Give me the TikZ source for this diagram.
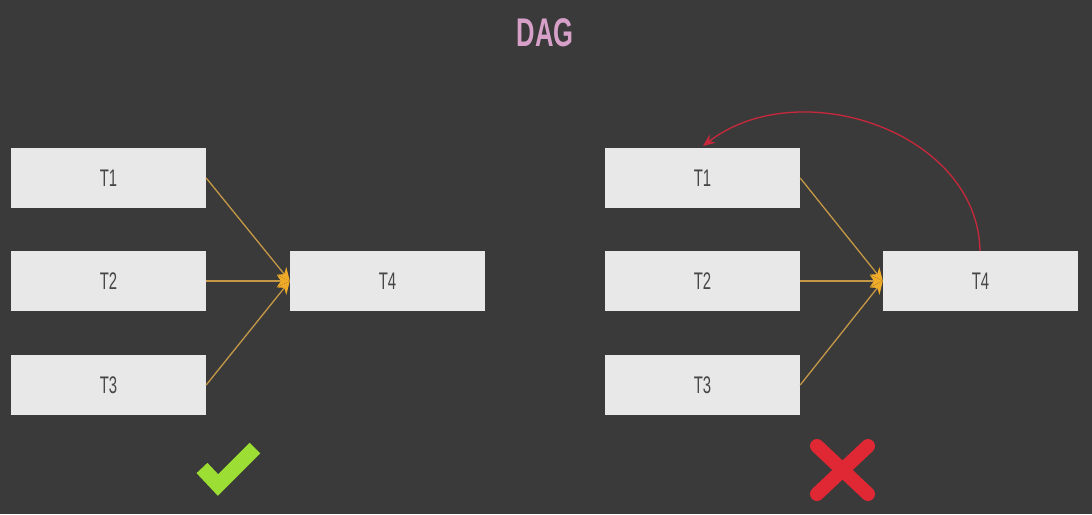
\documentclass[tikz,border=0pt]{standalone}
\usepackage{fontspec}
\setmainfont{Liberation Sans}
\usetikzlibrary{arrows.meta}
\definecolor{bg}{RGB}{58,58,58}
\definecolor{boxfill}{RGB}{232,232,232}
\definecolor{boxtext}{RGB}{70,70,70}
\definecolor{edgecol}{RGB}{196,152,70}
\definecolor{headcol}{RGB}{240,172,40}
\definecolor{backcol}{RGB}{200,40,60}
\definecolor{titlecol}{RGB}{214,160,200}
\definecolor{okgreen}{RGB}{156,222,52}
\definecolor{nored}{RGB}{224,40,52}
\tikzset{
  task/.style={fill=boxfill, draw=none, minimum width=195pt, minimum height=60pt, inner sep=0pt,
    text=boxtext, font=\fontsize{24}{24}\selectfont},
  dep/.style={draw=edgecol, line width=1.3pt, -{Stealth[length=13pt,width=12pt,fill=headcol,color=headcol]}},
  back/.style={draw=backcol, line width=1.3pt, -{Stealth[length=12pt,width=10pt,color=backcol]}},
}
\newcommand{\tl}[1]{\scalebox{0.62}[1]{#1}}
\begin{document}
\begin{tikzpicture}[x=1pt,y=-1pt]
\fill[bg] (0,0) rectangle (1092,514);
\useasboundingbox (0,0) rectangle (1092,514);
\node[text=titlecol, font=\bfseries\fontsize{40}{40}\selectfont] (title) at (545,33) {\scalebox{0.64}[1]{DAG}};
% left graph
\node[task] (a1) at (108.5,178) {\tl{T1}};
\node[task] (a2) at (108.5,281) {\tl{T2}};
\node[task] (a3) at (108.5,385) {\tl{T3}};
\node[task] (a4) at (387.5,281) {\tl{T4}};
\draw[dep] (a1.east) -- (a4.west);
\draw[dep] (a2.east) -- (a4.west);
\draw[dep] (a3.east) -- (a4.west);
% right graph
\node[task] (b1) at (702.5,178) {\tl{T1}};
\node[task] (b2) at (702.5,281) {\tl{T2}};
\node[task] (b3) at (702.5,385) {\tl{T3}};
\node[task] (b4) at (980.5,281) {\tl{T4}};
\draw[dep] (b1.east) -- (b4.west);
\draw[dep] (b2.east) -- (b4.west);
\draw[dep] (b3.east) -- (b4.west);
\coordinate (bs) at (980,251);
\coordinate (be) at (703,146);
\draw[back] (bs) .. controls (978,132) and (800,72) .. (be);
% marks
\coordinate (c1) at (202,468);
\coordinate (c2) at (218,485);
\coordinate (c3) at (255,448);
\draw[okgreen, line width=15pt, line join=miter] (c1) -- (c2) -- (c3);
\coordinate (x1) at (817,446);
\coordinate (x2) at (868,494);
\coordinate (x3) at (868,446);
\coordinate (x4) at (817,494);
\draw[nored, line width=14pt, line cap=round] (x1) -- (x2);
\draw[nored, line width=14pt, line cap=round] (x3) -- (x4);
\end{tikzpicture}
\end{document}
